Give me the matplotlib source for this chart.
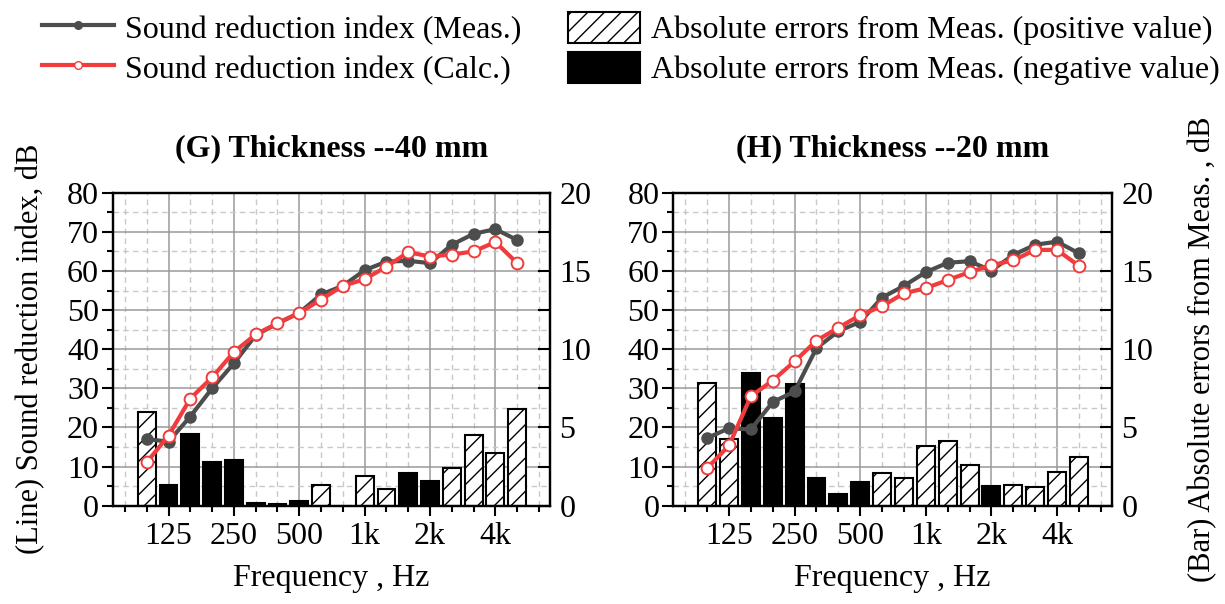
import numpy as np
import matplotlib
matplotlib.use('Agg')
import matplotlib.pyplot as plt
from matplotlib.ticker import FixedLocator, MultipleLocator, FuncFormatter
from matplotlib.patches import Patch
from matplotlib.lines import Line2D

plt.rcParams['font.family'] = ['Liberation Serif', 'DejaVu Serif']

# 1/3 octave bands
freqs = [100, 125, 160, 200, 250, 315, 400, 500, 630, 800,
         1000, 1250, 1600, 2000, 2500, 3150, 4000, 5000]
tick_freqs = [125, 250, 500, 1000, 2000, 4000]
tick_labels = ['125', '250', '500', '1k', '2k', '4k']

# (G) Thickness 40 mm
meas_g = [17.0, 16.4, 22.8, 30.0, 36.4, 43.6, 46.6, 49.3, 54.0, 56.2,
          60.2, 62.4, 62.6, 62.0, 66.7, 69.5, 70.7, 67.9]
calc_g = [11.1, 17.9, 27.4, 32.8, 39.3, 43.8, 46.6, 49.3, 52.7, 56.2,
          57.9, 61.1, 64.8, 63.7, 64.2, 65.0, 67.4, 62.0]
# bar values, sign: + hatched (positive), - black (negative)
err_g = [5.96, -1.32, -4.59, -2.78, -2.91, -0.19, -0.09, -0.28, 1.30, 0.0,
         1.88, 1.07, -2.09, -1.60, 2.41, 4.49, 3.38, 6.18]

# (H) Thickness 20 mm
meas_h = [17.3, 19.8, 19.5, 26.5, 29.2, 40.3, 44.6, 47.0, 53.2, 56.2,
          59.7, 62.1, 62.5, 60.1, 64.1, 66.7, 67.5, 64.5]
calc_h = [9.6, 15.4, 28.0, 32.0, 36.9, 42.2, 45.5, 48.7, 51.0, 54.3,
          55.6, 57.7, 59.7, 61.5, 62.7, 65.4, 65.4, 61.3]
err_h = [7.86, 4.27, -8.48, -5.62, -7.78, -1.75, -0.75, -1.50, 2.09, 1.77,
         3.80, 4.12, 2.63, -1.26, 1.32, 1.20, 2.14, 3.10]

MEAS_C = '#4d4d4d'
CALC_C = '#f03c3c'
FS = 23

fig = plt.figure(figsize=(12.25, 6.04), dpi=100)


def draw_panel(rect, title, meas, calc, err, left_label=None, right_label=None):
    axb = fig.add_axes(rect)
    axl = axb.twinx()
    x = np.arange(len(freqs))
    err = np.asarray(err)
    pos = err >= 0

    # bars (right axis)
    axb.bar(x[pos], err[pos], width=0.82, color='white', edgecolor='black',
            hatch='//', linewidth=1.5)
    axb.bar(x[~pos], -err[~pos], width=0.82, color='black', edgecolor='black',
            linewidth=1.5)

    # lines (left axis)
    axl.plot(x, meas, color=MEAS_C, lw=3.0, marker='o', ms=8,
             mfc=MEAS_C, mec=MEAS_C)
    axl.plot(x, calc, color=CALC_C, lw=3.0, marker='o', ms=8.5,
             mfc='white', mec=CALC_C, mew=1.4)

    axb.set_xlim(-1.55, 18.5)
    axb.set_ylim(0, 20)
    axl.set_ylim(0, 80)

    major_idx = [freqs.index(f) for f in tick_freqs]
    minor_idx = [i for i in range(-1, 19) if i not in major_idx]
    axb.xaxis.set_major_locator(FixedLocator(major_idx))
    axb.xaxis.set_minor_locator(FixedLocator(minor_idx))
    axb.set_xticklabels(tick_labels)

    axb.yaxis.set_major_locator(MultipleLocator(2.5))
    axb.yaxis.set_minor_locator(MultipleLocator(1.25))
    axb.yaxis.set_major_formatter(FuncFormatter(
        lambda v, p: '%d' % v if abs(v % 5) < 1e-6 else ''))
    axb.grid(which='major', color='#9a9a9a', lw=1.1, ls='-')
    axb.grid(which='minor', color='#c8c8c8', lw=1.0, ls=(0, (4, 3)))
    axb.set_axisbelow(True)

    axb.yaxis.tick_right()
    axb.yaxis.set_label_position('right')
    axl.yaxis.tick_left()
    axl.yaxis.set_label_position('left')
    axl.yaxis.set_major_locator(MultipleLocator(10))
    axl.yaxis.set_minor_locator(MultipleLocator(5))

    axb.tick_params(axis='y', which='major', direction='in', length=9, width=1.5,
                    labelsize=FS, pad=7)
    axb.tick_params(axis='y', which='minor', length=0)
    axb.tick_params(axis='x', which='major', direction='out', length=7, width=1.5,
                    labelsize=FS, pad=5)
    axb.tick_params(axis='x', which='minor', direction='out', length=4, width=1.5)
    axl.tick_params(axis='y', which='major', direction='out', length=8, width=1.5,
                    labelsize=FS, pad=2)
    axl.tick_params(axis='y', which='minor', direction='out', length=4, width=1.5)

    for ax in (axb, axl):
        for s in ax.spines.values():
            s.set_linewidth(1.6)

    axb.set_title(title, fontsize=FS, fontweight='bold', pad=26)
    axb.set_xlabel('Frequency , Hz', fontsize=FS, labelpad=9)
    if left_label:
        axl.set_ylabel(left_label, fontsize=22, labelpad=16)
    if right_label:
        axb.set_ylabel(right_label, fontsize=22, labelpad=25)
    return axb, axl


draw_panel([0.0922, 0.1627, 0.3567, 0.5182], '(G) Thickness --40 mm',
           meas_g, calc_g, err_g, left_label='(Line) Sound reduction index, dB')
draw_panel([0.5496, 0.1627, 0.3579, 0.5182], '(H) Thickness --20 mm',
           meas_h, calc_h, err_h, right_label='(Bar) Absolute errors from Meas. , dB')

handles = [
    Line2D([], [], color=MEAS_C, lw=3.0, marker='o', ms=5.5, mfc=MEAS_C, mec=MEAS_C),
    Line2D([], [], color=CALC_C, lw=3.0, marker='o', ms=5.5, mfc='white', mec=CALC_C),
    Patch(facecolor='white', edgecolor='black', hatch='//', lw=1.5),
    Patch(facecolor='black', edgecolor='black', lw=1.5),
]
labels = ['Sound reduction index (Meas.)', 'Sound reduction index (Calc.)',
          'Absolute errors from Meas. (positive value)',
          'Absolute errors from Meas. (negative value)']
fig.legend(handles, labels, ncol=2, loc='upper left', bbox_to_anchor=(0.0175, 1.015),
           frameon=False, fontsize=FS, handlelength=2.25, handleheight=1.15,
           handletextpad=0.35, columnspacing=1.45, labelspacing=0.2, borderpad=0.15)

fig.savefig('out.png', dpi=100)
